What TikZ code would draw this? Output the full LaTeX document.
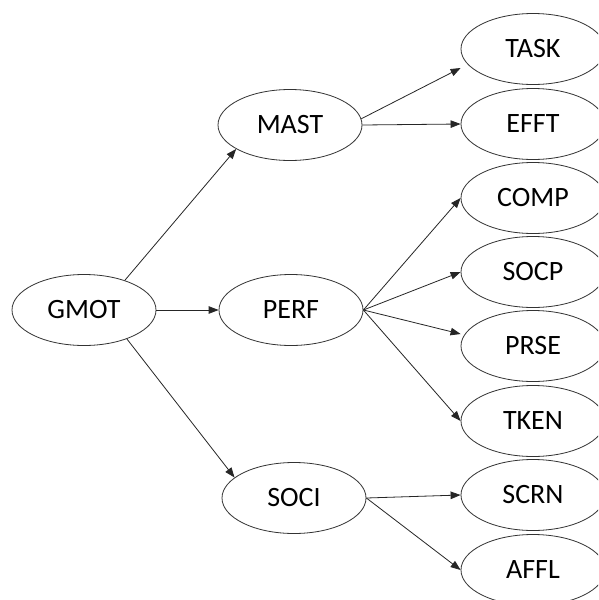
\documentclass[tikz,border=0pt]{standalone}
\usepackage{fontspec}
\setmainfont{Carlito}
\usetikzlibrary{shapes.geometric,arrows.meta}

\tikzset{
  var/.style={ellipse, draw=black!80, line width=0.8pt, fill=white,
    minimum width=144pt, minimum height=71pt, inner sep=0pt,
    font=\fontsize{28}{30}\selectfont},
  link/.style={draw=black!85, line width=0.8pt,
    -{Triangle[length=10pt,width=7.5pt]}}
}

\begin{document}
\begin{tikzpicture}[x=1pt,y=-1pt]
  \clip (0,0) rectangle (598,600);
  \fill[white] (0,0) rectangle (598,600);

  % root and second level
  \node[var] (GMOT) at (84,310) {GMOT};
  \node[var] (MAST) at (290,125) {MAST};
  \node[var] (PERF) at (291,310) {PERF};
  \node[var] (SOCI) at (294,498) {SOCI};

  % leaves
  \node[var] (TASK) at (533,49)  {TASK};
  \node[var] (EFFT) at (533,124) {EFFT};
  \node[var] (COMP) at (533,198) {COMP};
  \node[var] (SOCP) at (533,272) {SOCP};
  \node[var] (PRSE) at (533,346) {PRSE};
  \node[var] (TKEN) at (533,421) {TKEN};
  \node[var] (SCRN) at (533,495) {SCRN};
  \node[var] (AFFL) at (533,570) {AFFL};

  % connectors
  \draw[link] (GMOT.36)  -- (MAST.204);
  \draw[link] (GMOT.east) -- (PERF.west);
  \draw[link] (GMOT.-34) -- (SOCI.161);

  \draw[link] (MAST.5) -- ([yshift=-19pt]TASK.west);
  \draw[link] (MAST.east) -- (EFFT.west);

  \draw[link] (PERF.east) -- (COMP.west);
  \draw[link] (PERF.east) -- (SOCP.west);
  \draw[link] (PERF.east) -- ([yshift=12pt]PRSE.west);
  \draw[link] (PERF.east) -- (TKEN.west);

  \draw[link] (SOCI.east) -- (SCRN.west);
  \draw[link] (SOCI.east) -- (AFFL.west);
\end{tikzpicture}
\end{document}
